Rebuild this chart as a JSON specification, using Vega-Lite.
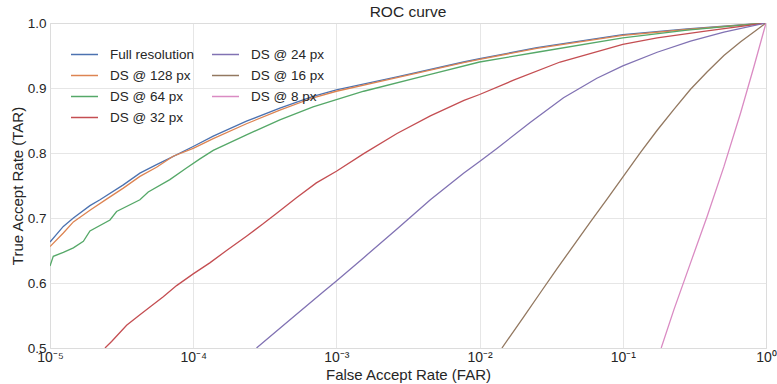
{
  "$schema": "https://vega.github.io/schema/vega-lite/v6.json",
  "width": 716,
  "height": 325,
  "autosize": {"type": "none"},
  "padding": {"left": 50, "top": 23, "right": 11, "bottom": 36},
  "background": "white",
  "title": {"text": "ROC curve", "fontSize": 15.5, "fontWeight": "normal", "color": "#262626", "font": "Liberation Sans", "offset": -4},
  "config": {
    "font": "Liberation Sans",
    "view": {"stroke": "#cccccc", "strokeWidth": 1},
    "axis": {"gridColor": "#e0e0e0", "gridWidth": 0.8, "domain": false, "ticks": false, "labelFontSize": 13.5, "labelColor": "#262626", "titleFontSize": 15, "titleFontWeight": "normal", "titleColor": "#262626", "labelPadding": 4}
  },
  "data": {"values": [
    {"series": "Full resolution", "far": 1e-5, "tar": 0.663},
    {"series": "Full resolution", "far": 1.239e-5, "tar": 0.687},
    {"series": "Full resolution", "far": 1.456e-5, "tar": 0.700},
    {"series": "Full resolution", "far": 1.901e-5, "tar": 0.719},
    {"series": "Full resolution", "far": 2.234e-5, "tar": 0.728},
    {"series": "Full resolution", "far": 3.25e-5, "tar": 0.751},
    {"series": "Full resolution", "far": 4.246e-5, "tar": 0.769},
    {"series": "Full resolution", "far": 5.546e-5, "tar": 0.782},
    {"series": "Full resolution", "far": 6.871e-5, "tar": 0.792},
    {"series": "Full resolution", "far": 1e-4, "tar": 0.810},
    {"series": "Full resolution", "far": 1.38e-4, "tar": 0.826},
    {"series": "Full resolution", "far": 2.355e-4, "tar": 0.849},
    {"series": "Full resolution", "far": 4.027e-4, "tar": 0.869},
    {"series": "Full resolution", "far": 6.871e-4, "tar": 0.887},
    {"series": "Full resolution", "far": 1e-3, "tar": 0.897},
    {"series": "Full resolution", "far": 2.649e-3, "tar": 0.917},
    {"series": "Full resolution", "far": 7.727e-3, "tar": 0.940},
    {"series": "Full resolution", "far": 0.01, "tar": 0.945},
    {"series": "Full resolution", "far": 0.0251, "tar": 0.962},
    {"series": "Full resolution", "far": 0.1, "tar": 0.982},
    {"series": "Full resolution", "far": 0.2818, "tar": 0.991},
    {"series": "Full resolution", "far": 1, "tar": 1.0},
    {"series": "DS @ 128 px", "far": 1e-5, "tar": 0.656},
    {"series": "DS @ 128 px", "far": 1.239e-5, "tar": 0.677},
    {"series": "DS @ 128 px", "far": 1.456e-5, "tar": 0.694},
    {"series": "DS @ 128 px", "far": 1.901e-5, "tar": 0.712},
    {"series": "DS @ 128 px", "far": 2.483e-5, "tar": 0.729},
    {"series": "DS @ 128 px", "far": 3.25e-5, "tar": 0.746},
    {"series": "DS @ 128 px", "far": 4.246e-5, "tar": 0.764},
    {"series": "DS @ 128 px", "far": 5.546e-5, "tar": 0.778},
    {"series": "DS @ 128 px", "far": 7.244e-5, "tar": 0.795},
    {"series": "DS @ 128 px", "far": 1e-4, "tar": 0.807},
    {"series": "DS @ 128 px", "far": 1.38e-4, "tar": 0.822},
    {"series": "DS @ 128 px", "far": 2.355e-4, "tar": 0.845},
    {"series": "DS @ 128 px", "far": 4.027e-4, "tar": 0.866},
    {"series": "DS @ 128 px", "far": 6.871e-4, "tar": 0.885},
    {"series": "DS @ 128 px", "far": 1e-3, "tar": 0.895},
    {"series": "DS @ 128 px", "far": 2.649e-3, "tar": 0.916},
    {"series": "DS @ 128 px", "far": 7.727e-3, "tar": 0.939},
    {"series": "DS @ 128 px", "far": 0.01, "tar": 0.944},
    {"series": "DS @ 128 px", "far": 0.0251, "tar": 0.961},
    {"series": "DS @ 128 px", "far": 0.1, "tar": 0.981},
    {"series": "DS @ 128 px", "far": 0.2818, "tar": 0.990},
    {"series": "DS @ 128 px", "far": 1, "tar": 1.0},
    {"series": "DS @ 64 px", "far": 1e-5, "tar": 0.626},
    {"series": "DS @ 64 px", "far": 1.054e-5, "tar": 0.641},
    {"series": "DS @ 64 px", "far": 1.239e-5, "tar": 0.647},
    {"series": "DS @ 64 px", "far": 1.456e-5, "tar": 0.654},
    {"series": "DS @ 64 px", "far": 1.71e-5, "tar": 0.664},
    {"series": "DS @ 64 px", "far": 1.901e-5, "tar": 0.680},
    {"series": "DS @ 64 px", "far": 2.624e-5, "tar": 0.697},
    {"series": "DS @ 64 px", "far": 2.917e-5, "tar": 0.710},
    {"series": "DS @ 64 px", "far": 4.246e-5, "tar": 0.728},
    {"series": "DS @ 64 px", "far": 4.853e-5, "tar": 0.740},
    {"series": "DS @ 64 px", "far": 6.871e-5, "tar": 0.759},
    {"series": "DS @ 64 px", "far": 8.974e-5, "tar": 0.777},
    {"series": "DS @ 64 px", "far": 1.114e-4, "tar": 0.791},
    {"series": "DS @ 64 px", "far": 1.38e-4, "tar": 0.804},
    {"series": "DS @ 64 px", "far": 2.355e-4, "tar": 0.828},
    {"series": "DS @ 64 px", "far": 4.027e-4, "tar": 0.851},
    {"series": "DS @ 64 px", "far": 6.871e-4, "tar": 0.871},
    {"series": "DS @ 64 px", "far": 1e-3, "tar": 0.882},
    {"series": "DS @ 64 px", "far": 1.552e-3, "tar": 0.895},
    {"series": "DS @ 64 px", "far": 4.529e-3, "tar": 0.921},
    {"series": "DS @ 64 px", "far": 0.01, "tar": 0.940},
    {"series": "DS @ 64 px", "far": 0.0251, "tar": 0.955},
    {"series": "DS @ 64 px", "far": 0.1, "tar": 0.977},
    {"series": "DS @ 64 px", "far": 0.2818, "tar": 0.989},
    {"series": "DS @ 64 px", "far": 1, "tar": 1.0},
    {"series": "DS @ 32 px", "far": 2.421e-5, "tar": 0.500},
    {"series": "DS @ 32 px", "far": 2.692e-5, "tar": 0.510},
    {"series": "DS @ 32 px", "far": 3.428e-5, "tar": 0.535},
    {"series": "DS @ 32 px", "far": 4.246e-5, "tar": 0.551},
    {"series": "DS @ 32 px", "far": 4.989e-5, "tar": 0.563},
    {"series": "DS @ 32 px", "far": 6.18e-5, "tar": 0.579},
    {"series": "DS @ 32 px", "far": 7.656e-5, "tar": 0.596},
    {"series": "DS @ 32 px", "far": 1e-4, "tar": 0.614},
    {"series": "DS @ 32 px", "far": 1.306e-4, "tar": 0.631},
    {"series": "DS @ 32 px", "far": 1.71e-4, "tar": 0.650},
    {"series": "DS @ 32 px", "far": 2.355e-4, "tar": 0.672},
    {"series": "DS @ 32 px", "far": 3.076e-4, "tar": 0.691},
    {"series": "DS @ 32 px", "far": 3.811e-4, "tar": 0.707},
    {"series": "DS @ 32 px", "far": 5.26e-4, "tar": 0.731},
    {"series": "DS @ 32 px", "far": 7.244e-4, "tar": 0.754},
    {"series": "DS @ 32 px", "far": 1e-3, "tar": 0.772},
    {"series": "DS @ 32 px", "far": 1.552e-3, "tar": 0.799},
    {"series": "DS @ 32 px", "far": 2.649e-3, "tar": 0.830},
    {"series": "DS @ 32 px", "far": 4.529e-3, "tar": 0.857},
    {"series": "DS @ 32 px", "far": 7.78e-3, "tar": 0.881},
    {"series": "DS @ 32 px", "far": 0.01, "tar": 0.890},
    {"series": "DS @ 32 px", "far": 0.01726, "tar": 0.912},
    {"series": "DS @ 32 px", "far": 0.0365, "tar": 0.940},
    {"series": "DS @ 32 px", "far": 0.1, "tar": 0.967},
    {"series": "DS @ 32 px", "far": 0.1738, "tar": 0.977},
    {"series": "DS @ 32 px", "far": 0.389, "tar": 0.988},
    {"series": "DS @ 32 px", "far": 1, "tar": 1.0},
    {"series": "DS @ 24 px", "far": 2.767e-4, "tar": 0.500},
    {"series": "DS @ 24 px", "far": 4.72e-4, "tar": 0.543},
    {"series": "DS @ 24 px", "far": 8.07e-4, "tar": 0.586},
    {"series": "DS @ 24 px", "far": 1e-3, "tar": 0.603},
    {"series": "DS @ 24 px", "far": 1.552e-3, "tar": 0.639},
    {"series": "DS @ 24 px", "far": 2.649e-3, "tar": 0.683},
    {"series": "DS @ 24 px", "far": 4.529e-3, "tar": 0.728},
    {"series": "DS @ 24 px", "far": 7.727e-3, "tar": 0.769},
    {"series": "DS @ 24 px", "far": 0.01, "tar": 0.787},
    {"series": "DS @ 24 px", "far": 0.01321, "tar": 0.807},
    {"series": "DS @ 24 px", "far": 0.02254, "tar": 0.847},
    {"series": "DS @ 24 px", "far": 0.03855, "tar": 0.885},
    {"series": "DS @ 24 px", "far": 0.0659, "tar": 0.915},
    {"series": "DS @ 24 px", "far": 0.1, "tar": 0.934},
    {"series": "DS @ 24 px", "far": 0.1738, "tar": 0.955},
    {"series": "DS @ 24 px", "far": 0.2972, "tar": 0.972},
    {"series": "DS @ 24 px", "far": 0.5082, "tar": 0.986},
    {"series": "DS @ 24 px", "far": 1, "tar": 1.0},
    {"series": "DS @ 16 px", "far": 0.01432, "tar": 0.500},
    {"series": "DS @ 16 px", "far": 0.02032, "tar": 0.548},
    {"series": "DS @ 16 px", "far": 0.02655, "tar": 0.585},
    {"series": "DS @ 16 px", "far": 0.03475, "tar": 0.622},
    {"series": "DS @ 16 px", "far": 0.04539, "tar": 0.658},
    {"series": "DS @ 16 px", "far": 0.05943, "tar": 0.694},
    {"series": "DS @ 16 px", "far": 0.07762, "tar": 0.729},
    {"series": "DS @ 16 px", "far": 0.1, "tar": 0.763},
    {"series": "DS @ 16 px", "far": 0.133, "tar": 0.801},
    {"series": "DS @ 16 px", "far": 0.1738, "tar": 0.835},
    {"series": "DS @ 16 px", "far": 0.2275, "tar": 0.867},
    {"series": "DS @ 16 px", "far": 0.2972, "tar": 0.898},
    {"series": "DS @ 16 px", "far": 0.389, "tar": 0.925},
    {"series": "DS @ 16 px", "far": 0.5082, "tar": 0.950},
    {"series": "DS @ 16 px", "far": 0.6653, "tar": 0.971},
    {"series": "DS @ 16 px", "far": 0.869, "tar": 0.990},
    {"series": "DS @ 16 px", "far": 1, "tar": 1.0},
    {"series": "DS @ 8 px", "far": 0.1854, "tar": 0.500},
    {"series": "DS @ 8 px", "far": 0.2275, "tar": 0.559},
    {"series": "DS @ 8 px", "far": 0.2972, "tar": 0.631},
    {"series": "DS @ 8 px", "far": 0.389, "tar": 0.703},
    {"series": "DS @ 8 px", "far": 0.5082, "tar": 0.779},
    {"series": "DS @ 8 px", "far": 0.6653, "tar": 0.862},
    {"series": "DS @ 8 px", "far": 0.8241, "tar": 0.933},
    {"series": "DS @ 8 px", "far": 1, "tar": 1.0}
  ]},
  "mark": {"type": "line", "strokeWidth": 1.3, "clip": true},
  "encoding": {
    "x": {
      "field": "far", "type": "quantitative",
      "scale": {"type": "log", "domain": [0.00001, 1], "nice": false},
      "axis": {"title": "False Accept Rate (FAR)", "values": [0.00001, 0.0001, 0.001, 0.01, 0.1, 1], "labelExpr": "['10⁻⁵','10⁻⁴','10⁻³','10⁻²','10⁻¹','10⁰'][round(log(datum.value)/LN10)+5]", "titlePadding": 3, "labelPadding": 2, "labelFontSize": 14, "labelFlush": false}
    },
    "y": {
      "field": "tar", "type": "quantitative",
      "scale": {"domain": [0.5, 1.0], "nice": false, "zero": false},
      "axis": {"title": "True Accept Rate (TAR)", "values": [0.5, 0.6, 0.7, 0.8, 0.9, 1.0], "format": ".1f", "titlePadding": 2}
    },
    "color": {
      "field": "series", "type": "nominal",
      "scale": {
        "domain": ["Full resolution", "DS @ 128 px", "DS @ 64 px", "DS @ 32 px", "DS @ 24 px", "DS @ 16 px", "DS @ 8 px"],
        "range": ["#4C72B0", "#DD8452", "#55A868", "#C44E52", "#8172B3", "#937860", "#DA8BC3"]
      },
      "legend": {
        "title": null, "orient": "none", "legendX": 20, "legendY": 17, "columns": 2,
        "symbolType": "stroke", "symbolSize": 729, "symbolStrokeWidth": 1.5,
        "labelFontSize": 13.5, "labelColor": "#262626", "rowPadding": -7, "columnPadding": 14,
        "labelOffset": 11, "padding": 0
      }
    }
  }
}
